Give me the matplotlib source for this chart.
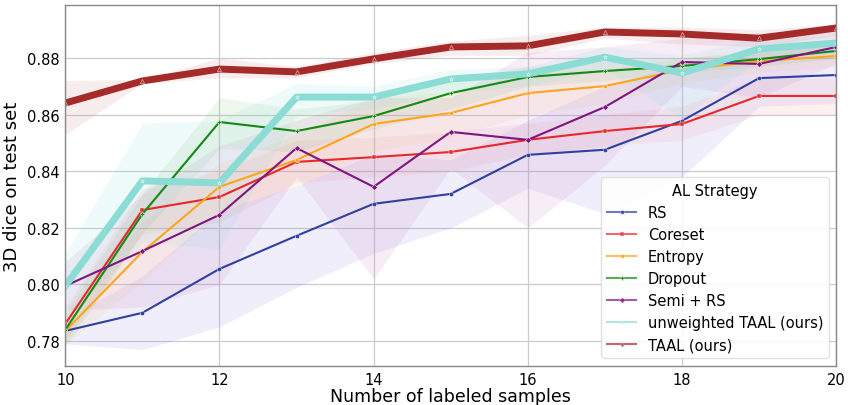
import matplotlib
matplotlib.use("Agg")
import matplotlib.pyplot as plt
import numpy as np

plt.rcParams['font.family'] = ['DejaVu Sans']

# number of labeled samples
samples = [10, 11, 12, 13, 14, 15, 16, 17, 18, 19, 20]

strategies = ['RS', 'Coreset', 'Entropy', 'Dropout', 'Semi + RS',
              'unweighted TAAL (ours)', 'TAAL (ours)']

# mean 3D dice per strategy
rs_mean = [0.7836, 0.7900, 0.8055, 0.8172, 0.8285, 0.8320, 0.8458, 0.8476, 0.8578, 0.8729, 0.8740]
coreset_mean = [0.7861, 0.8263, 0.8309, 0.8433, 0.8450, 0.8468, 0.8511, 0.8542, 0.8567, 0.8666, 0.8666]
entropy_mean = [0.7836, 0.8115, 0.8345, 0.8440, 0.8567, 0.8606, 0.8676, 0.8701, 0.8758, 0.8789, 0.8807]
dropout_mean = [0.7840, 0.8249, 0.8574, 0.8542, 0.8595, 0.8676, 0.8733, 0.8754, 0.8772, 0.8796, 0.8825]
semi_mean = [0.7995, 0.8118, 0.8246, 0.8482, 0.8345, 0.8539, 0.8511, 0.8627, 0.8786, 0.8779, 0.8839]
utaal_mean = [0.7995, 0.8366, 0.8359, 0.8662, 0.8662, 0.8726, 0.8744, 0.8803, 0.8747, 0.8832, 0.8853]
taal_mean = [0.8641, 0.8719, 0.8761, 0.8751, 0.8797, 0.8839, 0.8843, 0.8892, 0.8885, 0.8870, 0.8906]

# lower / upper edge of the shaded spread
rs_lo = [0.779, 0.777, 0.785, 0.799, 0.811, 0.820, 0.834, 0.825, 0.838, 0.863, 0.864]
rs_hi = [0.788, 0.803, 0.826, 0.835, 0.846, 0.844, 0.858, 0.870, 0.878, 0.883, 0.884]
coreset_lo = [0.780, 0.818, 0.822, 0.836, 0.838, 0.840, 0.846, 0.849, 0.851, 0.860, 0.860]
coreset_hi = [0.792, 0.834, 0.840, 0.851, 0.852, 0.854, 0.857, 0.860, 0.863, 0.873, 0.873]
entropy_lo = [0.779, 0.801, 0.826, 0.835, 0.847, 0.852, 0.860, 0.864, 0.871, 0.875, 0.877]
entropy_hi = [0.789, 0.822, 0.843, 0.853, 0.866, 0.868, 0.875, 0.876, 0.880, 0.883, 0.884]
dropout_lo = [0.778, 0.818, 0.848, 0.847, 0.855, 0.862, 0.870, 0.872, 0.875, 0.877, 0.880]
dropout_hi = [0.790, 0.832, 0.866, 0.862, 0.865, 0.872, 0.877, 0.879, 0.880, 0.882, 0.885]
semi_lo = [0.791, 0.792, 0.800, 0.838, 0.802, 0.841, 0.820, 0.842, 0.870, 0.866, 0.878]
semi_hi = [0.808, 0.832, 0.849, 0.858, 0.866, 0.866, 0.882, 0.884, 0.887, 0.889, 0.890]
utaal_lo = [0.788, 0.815, 0.8125, 0.860, 0.862, 0.868, 0.870, 0.876, 0.8585, 0.880, 0.882]
utaal_hi = [0.811, 0.857, 0.858, 0.871, 0.870, 0.876, 0.877, 0.884, 0.881, 0.887, 0.888]
taal_lo = [0.853, 0.871, 0.873, 0.873, 0.878, 0.881, 0.881, 0.887, 0.885, 0.884, 0.888]
taal_hi = [0.872, 0.8725, 0.880, 0.877, 0.882, 0.886, 0.888, 0.891, 0.891, 0.890, 0.892]

means = [rs_mean, coreset_mean, entropy_mean, dropout_mean, semi_mean, utaal_mean, taal_mean]
lows = [rs_lo, coreset_lo, entropy_lo, dropout_lo, semi_lo, utaal_lo, taal_lo]
highs = [rs_hi, coreset_hi, entropy_hi, dropout_hi, semi_hi, utaal_hi, taal_hi]

colors = ['#3040a0', '#e8282a', '#ffa51c', '#138a13', '#801580', '#8adcd4', '#a52a2a']
band_colors = ['#8878e0', '#e88888', '#ffc070', '#70c070', '#c070c0', '#80dcd8', '#c07070']
markers = ['o', 's', 'o', 'P', 'D', '*', '^']
widths = [1.5, 1.5, 1.5, 1.5, 1.5, 5, 5]

fig, ax = plt.subplots(figsize=(8.48, 4.06), dpi=100)
fig.subplots_adjust(left=0.077, right=0.986, top=0.985, bottom=0.096)

for i, name in enumerate(strategies):
    ax.fill_between(samples, lows[i], highs[i], color=band_colors[i], alpha=0.12, lw=0)
for i, name in enumerate(strategies):
    ax.plot(samples, means[i], color=colors[i], lw=widths[i], marker=markers[i],
            markersize=3, markeredgecolor='white', markeredgewidth=0.3, label=name)

ax.set_xlim(10, 20)
ax.set_ylim(0.7712, 0.8987)
ax.set_xticks([10, 12, 14, 16, 18, 20])
ax.set_yticks([0.78, 0.80, 0.82, 0.84, 0.86, 0.88])
ax.set_yticklabels(['0.78', '0.80', '0.82', '0.84', '0.86', '0.88'])
ax.tick_params(labelsize=10.5, length=0, pad=4)
ax.grid(True, color='#cccccc', lw=0.9)
ax.set_axisbelow(True)
for s in ax.spines.values():
    s.set_color('#888888')
    s.set_linewidth(1.0)

ax.set_xlabel('Number of labeled samples', fontsize=12.5, labelpad=0)
ax.set_ylabel('3D dice on test set', fontsize=13, labelpad=4)

leg = ax.legend(title='AL Strategy', loc='lower right', fontsize=10.5, title_fontsize=10.5,
                framealpha=0.9, edgecolor='#dddddd', fancybox=True, borderpad=0.4,
                labelspacing=0.48, handlelength=2.0, borderaxespad=0,
                bbox_to_anchor=(0.991, 0.022))
for line in leg.get_lines():
    line.set_linewidth(1.5)
    line.set_alpha(0.7)

fig.savefig('out.png', dpi=100)
